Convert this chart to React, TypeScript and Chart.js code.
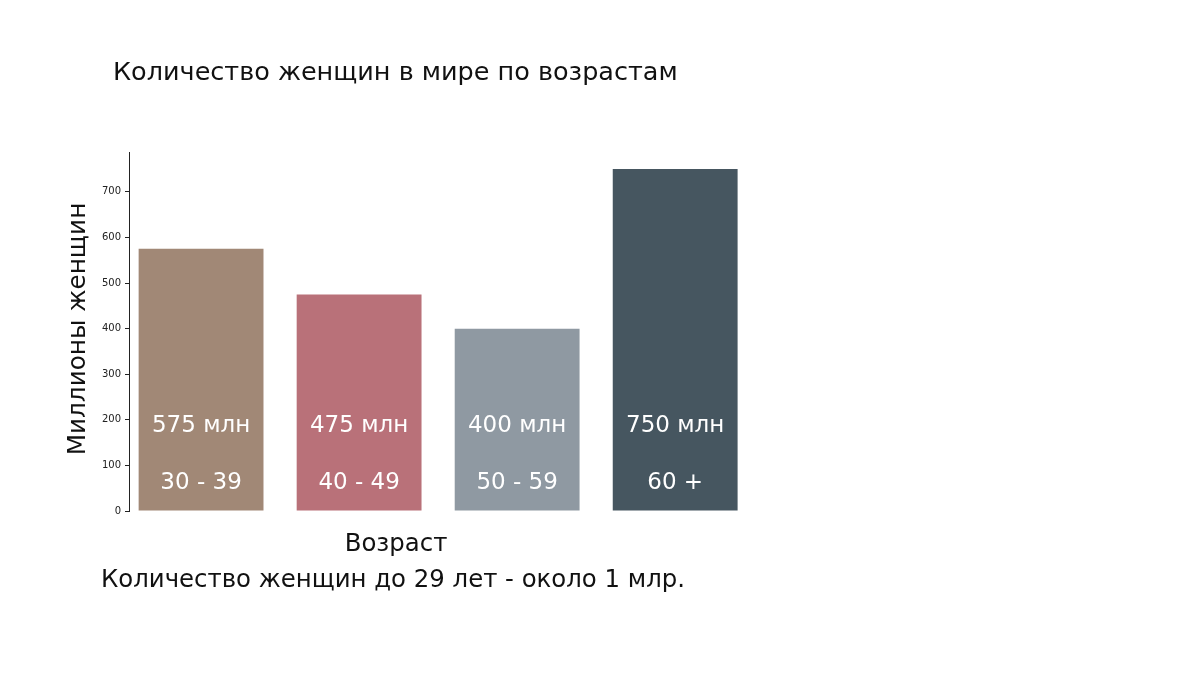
import React, { useEffect, useRef } from 'react';
import { Chart, registerables } from 'chart.js';

Chart.register(...registerables);

const categories = ['30 - 39', '40 - 49', '50 - 59', '60 +'];
const values = [575, 475, 400, 750];
const valueLabels = ['575 млн', '475 млн', '400 млн', '750 млн'];
const colors = ['#a18876', '#b97179', '#8f99a2', '#465660'];
const yTickValues = [0, 100, 200, 300, 400, 500, 600, 700];
const titleText = 'Количество женщин в мире по возрастам';
const xTitleText = 'Возраст';
const yTitleText = 'Миллионы женщин';
const footnoteText = 'Количество женщин до 29 лет - около 1 млр.';

const FONT = '"DejaVu Sans"';

const textPlugin = {
  id: 'texts',
  afterDraw(chart: any) {
    const ctx = chart.ctx as CanvasRenderingContext2D;
    const xs = chart.scales.x;
    const ys = chart.scales.y;
    ctx.save();
    ctx.fillStyle = '#111';
    ctx.textBaseline = 'middle';
    ctx.font = `25.5px ${FONT}`;
    ctx.textAlign = 'left';
    ctx.fillText(titleText, 113, 73);
    ctx.font = `24.4px ${FONT}`;
    ctx.textAlign = 'center';
    ctx.fillText(xTitleText, 396, 545);
    ctx.textAlign = 'left';
    ctx.fillText(footnoteText, 101, 581);
    ctx.save();
    ctx.translate(79, 329);
    ctx.rotate(-Math.PI / 2);
    ctx.textAlign = 'center';
    ctx.font = `24.7px ${FONT}`;
    ctx.fillText(yTitleText, 0, 0);
    ctx.restore();
    ctx.fillStyle = '#ffffff';
    ctx.font = `23px ${FONT}`;
    ctx.textAlign = 'center';
    categories.forEach((c, i) => {
      const x = xs.getPixelForValue(i);
      ctx.fillText(valueLabels[i], x, ys.bottom - 85);
      ctx.fillText(c, x, ys.bottom - 28);
    });
    ctx.restore();
  },
};

export default function App() {
  const ref = useRef<HTMLCanvasElement>(null);
  useEffect(() => {
    if (!ref.current) return;
    const chart = new Chart(ref.current, {
      type: 'bar',
      data: {
        datasets: [
          {
            data: values.map((v, i) => ({ x: i, y: v })),
            backgroundColor: colors,
            borderWidth: 0,
            categoryPercentage: 1,
            barPercentage: 0.79,
          },
        ],
      },
      options: {
        animation: false,
        responsive: false,
        layout: { padding: { top: 152, bottom: 166, left: 0, right: 430 } },
        plugins: {
          legend: { display: false },
          tooltip: { enabled: false },
          title: { display: false },
        },
        scales: {
          x: {
            type: 'linear',
            display: false,
            offset: false,
            min: -0.456,
            max: 3.6,
            afterBuildTicks: (scale: any) => {
              scale.ticks = categories.map((_, i) => ({ value: i }));
            },
          },
          y: {
            min: 0,
            max: 787.5,
            afterBuildTicks: (scale: any) => {
              scale.ticks = yTickValues.map((v) => ({ value: v }));
            },
            afterFit: (scale: any) => {
              scale.width = 129;
            },
            ticks: {
              color: '#222',
              font: { family: 'DejaVu Sans', size: 10 },
              padding: 4,
            },
            grid: {
              drawOnChartArea: false,
              drawTicks: true,
              tickLength: 4,
              color: '#222',
            },
            border: { display: true, color: '#222', width: 1 },
          },
        },
      },
      plugins: [textPlugin],
    });
    return () => chart.destroy();
  }, []);
  return (
    <div style={{ position: 'fixed', left: 0, top: 0, width: 1200, height: 677, background: '#fff' }}>
      <canvas ref={ref} width={1200} height={677} />
    </div>
  );
}
